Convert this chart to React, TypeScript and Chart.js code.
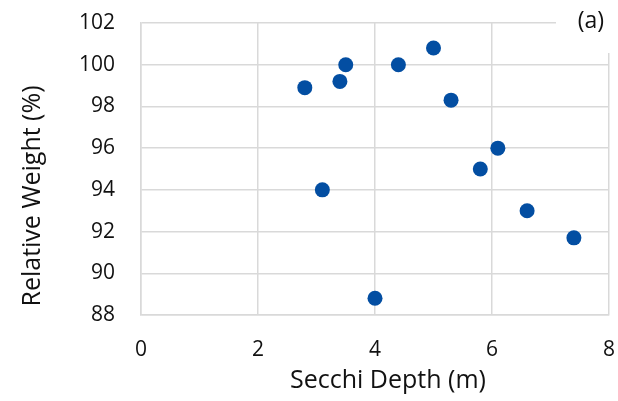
import React, { useEffect, useRef } from "react";
import { Chart, registerables } from "chart.js";

Chart.register(...registerables);

// Secchi depth (m) and relative weight (%) for each sampled lake
const secchiDepth = [2.8, 3.4, 3.5, 4.4, 5.0, 5.3, 6.1, 5.8, 3.1, 6.6, 7.4, 4.0];
const relativeWeight = [98.9, 99.2, 100.0, 100.0, 100.8, 98.3, 96.0, 95.0, 94.0, 93.0, 91.7, 88.8];

const xTicks = [0, 2, 4, 6, 8];
const yTicks = [88, 90, 92, 94, 96, 98, 100, 102];

const xTitle = "Secchi Depth (m)";
const yTitle = "Relative Weight (%)";
const panelLabel = "(a)";

const FONT = "'Open Sans', 'Noto Sans', sans-serif";
const TEXT = "#111111";
const GRID = "#d9d9d9";
const MARK = "#034ea2";

// Axis titles and the panel tag, drawn on the canvas after the chart
const annotations = {
  id: "annotations",
  afterDraw(chart: any) {
    const ctx = chart.ctx as CanvasRenderingContext2D;
    ctx.save();

    // panel tag on a white box at the top-right corner
    ctx.fillStyle = "#ffffff";
    ctx.fillRect(chart.width - 62, 0, 62, 53);
    ctx.fillStyle = TEXT;
    ctx.font = `23px ${FONT}`;
    ctx.textAlign = "right";
    ctx.textBaseline = "alphabetic";
    ctx.fillText(panelLabel, chart.width - 14, 28);

    // x-axis title
    ctx.font = `25px ${FONT}`;
    ctx.textAlign = "center";
    ctx.fillText(xTitle, 388, 388);

    // y-axis title, rotated
    ctx.translate(40, 196);
    ctx.rotate(-Math.PI / 2);
    ctx.fillText(yTitle, 0, 0);

    ctx.restore();
  },
};

export default function App() {
  const canvasRef = useRef<HTMLCanvasElement | null>(null);

  useEffect(() => {
    document.body.style.margin = "0";
    const canvas = canvasRef.current;
    if (!canvas) return;

    const chart = new Chart(canvas, {
      type: "scatter",
      data: {
        datasets: [
          {
            label: "Relative weight",
            data: secchiDepth.map((x, i) => ({ x, y: relativeWeight[i] })),
            backgroundColor: MARK,
            borderColor: MARK,
            pointRadius: 7.5,
            pointHoverRadius: 7.5,
            borderWidth: 0,
          },
        ],
      },
      options: {
        animation: false,
        responsive: true,
        maintainAspectRatio: false,
        layout: { autoPadding: false, padding: { top: 23, right: 9, left: 0, bottom: 0 } },
        plugins: {
          legend: { display: false },
          tooltip: { enabled: false },
        },
        scales: {
          x: {
            type: "linear",
            min: xTicks[0],
            max: xTicks[xTicks.length - 1],
            afterBuildTicks: (scale: any) => {
              scale.ticks = xTicks.map((value) => ({ value }));
            },
            afterFit: (scale: any) => {
              scale.height = 86;
              scale.paddingLeft = 0;
              scale.paddingRight = 0;
            },
            grid: { color: GRID, lineWidth: 1.5, drawTicks: false },
            border: { display: true, color: GRID, width: 1.5 },
            ticks: {
              color: TEXT,
              font: { family: FONT, size: 21 },
              padding: 22,
              maxRotation: 0,
            },
            title: { display: false },
          },
          y: {
            type: "linear",
            min: yTicks[0],
            max: yTicks[yTicks.length - 1],
            afterBuildTicks: (scale: any) => {
              scale.ticks = yTicks.map((value) => ({ value }));
            },
            afterFit: (scale: any) => {
              scale.width = 141;
              scale.paddingTop = 0;
              scale.paddingBottom = 0;
            },
            grid: { color: GRID, lineWidth: 1.5, drawTicks: false },
            border: { display: true, color: GRID, width: 1.5 },
            ticks: {
              color: TEXT,
              font: { family: FONT, size: 21 },
              padding: 26,
            },
            title: { display: false },
          },
        },
      },
      plugins: [annotations],
    });

    return () => chart.destroy();
  }, []);

  return (
    <div style={{ position: "relative", width: 618, height: 401 }}>
      <canvas ref={canvasRef} />
    </div>
  );
}
